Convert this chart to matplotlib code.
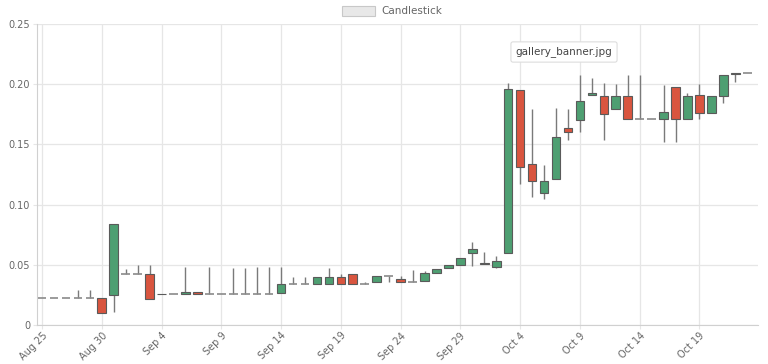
import numpy as np
import pandas as pd
import matplotlib
matplotlib.use("Agg")
import matplotlib.pyplot as plt
import matplotlib.dates as mdates
from matplotlib.patches import Rectangle

# daily OHLC, Aug 25 .. Oct 23
dates = pd.date_range("2019-08-25", "2019-10-23", freq="D")
opens = [0.0224, 0.0224, 0.0224, 0.0224, 0.0224, 0.0224, 0.025, 0.042, 0.042, 0.042,
         0.0255, 0.026, 0.026, 0.0277, 0.026, 0.026, 0.026, 0.026, 0.026, 0.026,
         0.0263, 0.034, 0.034, 0.034, 0.034, 0.040, 0.042, 0.034, 0.0355, 0.0407,
         0.038, 0.0357, 0.0365, 0.0435, 0.047, 0.050, 0.0595, 0.0515, 0.0484, 0.0595,
         0.195, 0.134, 0.110, 0.1215, 0.164, 0.170, 0.191, 0.190, 0.179, 0.190,
         0.171, 0.171, 0.171, 0.198, 0.171, 0.191, 0.176, 0.190, 0.2085, 0.209]
closes = [0.0224, 0.0224, 0.0224, 0.0224, 0.0224, 0.0102, 0.084, 0.042, 0.042, 0.0216,
          0.0260, 0.026, 0.0274, 0.026, 0.026, 0.026, 0.026, 0.026, 0.026, 0.026,
          0.0338, 0.034, 0.034, 0.0396, 0.0396, 0.034, 0.034, 0.034, 0.041, 0.0407,
          0.0355, 0.0357, 0.043, 0.0465, 0.050, 0.0554, 0.0634, 0.0504, 0.0534, 0.196,
          0.131, 0.120, 0.120, 0.156, 0.160, 0.186, 0.1925, 0.175, 0.190, 0.171,
          0.171, 0.171, 0.177, 0.171, 0.190, 0.176, 0.190, 0.208, 0.2095, 0.209]
highs = [0.0224, 0.0224, 0.0224, 0.029, 0.029, 0.0224, 0.084, 0.0465, 0.050, 0.050,
         0.0260, 0.026, 0.048, 0.0277, 0.048, 0.026, 0.047, 0.047, 0.048, 0.048,
         0.048, 0.040, 0.040, 0.0396, 0.047, 0.042, 0.042, 0.0357, 0.041, 0.0407,
         0.0407, 0.046, 0.0445, 0.0465, 0.050, 0.0554, 0.0687, 0.061, 0.057, 0.2007,
         0.195, 0.179, 0.133, 0.180, 0.179, 0.208, 0.205, 0.201, 0.200, 0.208,
         0.208, 0.171, 0.199, 0.198, 0.193, 0.200, 0.190, 0.208, 0.2095, 0.209]
lows = [0.0224, 0.0224, 0.0224, 0.0224, 0.0224, 0.0102, 0.0105, 0.042, 0.042, 0.0216,
        0.0255, 0.026, 0.026, 0.026, 0.026, 0.026, 0.026, 0.026, 0.026, 0.026,
        0.0263, 0.034, 0.034, 0.034, 0.034, 0.034, 0.034, 0.034, 0.0355, 0.0355,
        0.0355, 0.0357, 0.0365, 0.0435, 0.047, 0.050, 0.049, 0.0504, 0.047, 0.0595,
        0.117, 0.106, 0.105, 0.1215, 0.154, 0.160, 0.191, 0.154, 0.179, 0.171,
        0.171, 0.171, 0.152, 0.152, 0.171, 0.171, 0.176, 0.184, 0.202, 0.209]

up_col = "#4e9f72"
down_col = "#d9553f"

fig = plt.figure(figsize=(7.68, 3.64), dpi=100)
ax = fig.add_axes([37 / 768, 1 - 325 / 364, 721 / 768, 301 / 364])

x = mdates.date2num(dates)
o = np.array(opens)
c = np.array(closes)
w = 0.72

ax.vlines(x, lows, highs, color="#7a7a7a", lw=1.0, zorder=2)
for xi, oi, ci in zip(x, o, c):
    if abs(ci - oi) < 1e-9:
        ax.hlines(oi, xi - w / 2, xi + w / 2, color="#8a8a8a", lw=1.2, zorder=3)
    else:
        col = up_col if ci > oi else down_col
        ax.add_patch(Rectangle((xi - w / 2, min(oi, ci)), w, abs(ci - oi),
                               facecolor=col, edgecolor="#5a5a5a", lw=0.8, zorder=3))

ax.set_xlim(x[0] - 0.42, x[-1] + 0.9)
ax.set_ylim(0, 0.25)

tick_dates = dates[::5]
ax.set_xticks(mdates.date2num(tick_dates))
ax.set_xticklabels([d.strftime("%b ") + str(d.day) for d in tick_dates],
                   rotation=45, ha="right", rotation_mode="anchor")
ax.set_yticks([0, 0.05, 0.10, 0.15, 0.20, 0.25])
ax.set_yticklabels(["0", "0.05", "0.10", "0.15", "0.20", "0.25"])

ax.grid(True, color="#e6e6e6", lw=0.9)
ax.set_axisbelow(True)
for side in ["top", "right"]:
    ax.spines[side].set_visible(False)
for side in ["left", "bottom"]:
    ax.spines[side].set_color("#d0d0d0")
ax.tick_params(axis="both", labelsize=7, labelcolor="#666666", color="#e6e6e6", length=3)
ax.tick_params(axis="x", pad=1)
ax.tick_params(axis="y", pad=2)

# legend
fig.patches.append(Rectangle((342 / 768, 1 - 16 / 364), 33 / 768, 10 / 364,
                             transform=fig.transFigure, facecolor="#e8e8e8",
                             edgecolor="#c8c8c8", lw=0.8))
fig.text(381 / 768, 1 - 11 / 364, "Candlestick", fontsize=7.5, color="#666666",
         va="center", ha="left")

# tooltip
fig.text(564 / 768, 1 - 52 / 364, "gallery_banner.jpg", fontsize=7.5, color="#444444",
         ha="center", va="center",
         bbox=dict(boxstyle="round,pad=0.45,rounding_size=0.2", facecolor="white",
                   edgecolor="#dddddd", lw=0.8))

fig.savefig("out.png", dpi=100)
